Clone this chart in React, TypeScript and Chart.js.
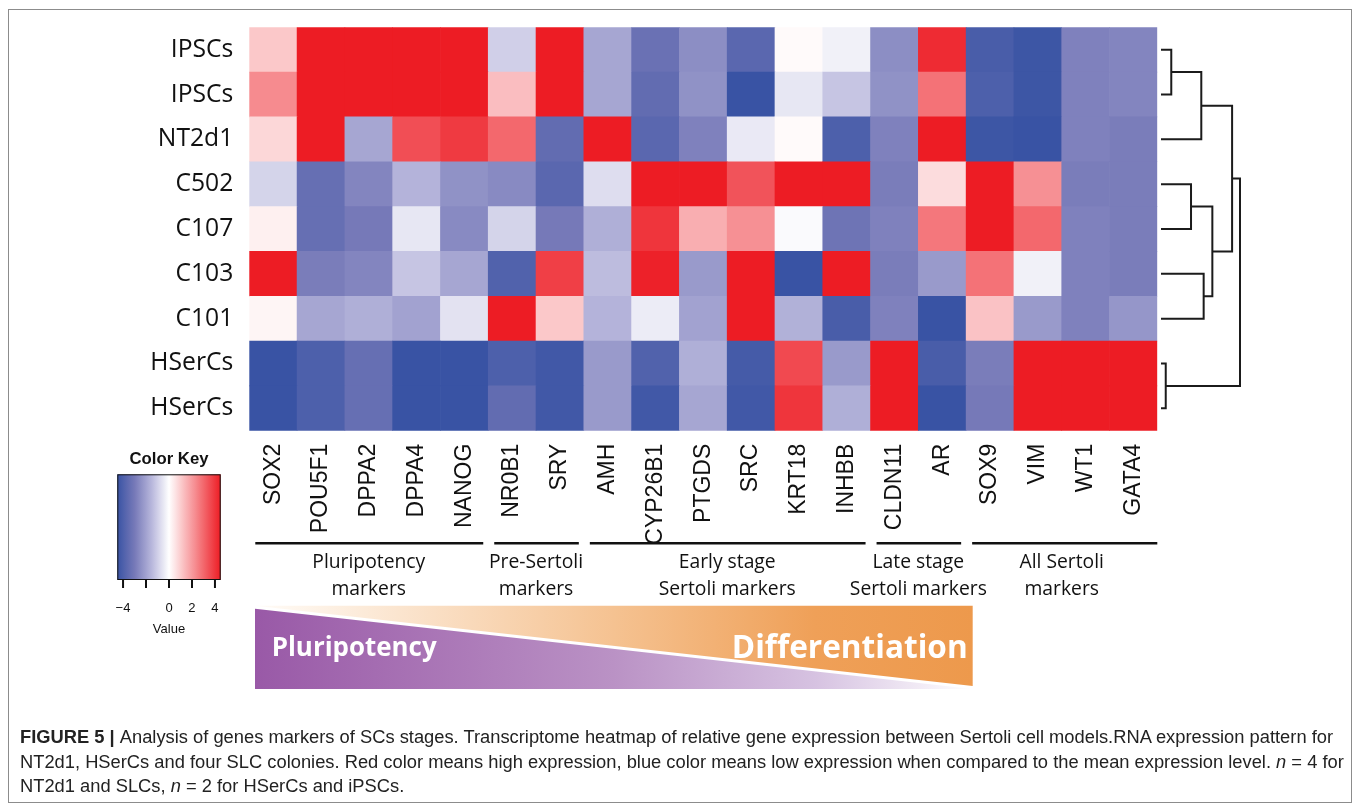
import React, { useEffect, useRef } from 'react';
import { Chart, registerables } from 'chart.js';
Chart.register(...registerables);

// ---------------- data ----------------
const rowLabels = ['IPSCs', 'IPSCs', 'NT2d1', 'C502', 'C107', 'C103', 'C101', 'HSerCs', 'HSerCs'];
const geneLabels = ['SOX2', 'POU5F1', 'DPPA2', 'DPPA4', 'NANOG', 'NR0B1', 'SRY', 'AMH', 'CYP26B1', 'PTGDS', 'SRC', 'KRT18', 'INHBB', 'CLDN11', 'AR', 'SOX9', 'VIM', 'WT1', 'GATA4'];

const ipscsA = [1.1, 4.5, 4.5, 4.5, 4.5, -1.0, 4.5, -1.9, -3.3, -2.5, -3.7, 0.1, -0.3, -2.5, 4.2, -4.1, -4.4, -2.8, -2.7];
const ipscsB = [2.3, 4.5, 4.5, 4.5, 4.5, 1.3, 4.5, -1.9, -3.5, -2.4, -4.5, -0.5, -1.2, -2.4, 2.8, -4.0, -4.4, -2.8, -2.7];
const nt2d1 = [0.8, 4.5, -1.9, 3.5, 3.9, 3.0, -3.5, 4.5, -3.7, -2.8, -0.45, 0.1, -4.0, -2.8, 4.5, -4.4, -4.5, -2.8, -2.9];
const c502 = [-0.9, -3.4, -2.7, -1.6, -2.4, -2.6, -3.7, -0.7, 4.5, 4.5, 3.4, 4.5, 4.5, -2.9, 0.7, 4.5, 2.2, -2.9, -2.9];
const c107 = [0.3, -3.4, -3.0, -0.5, -2.6, -0.9, -3.0, -1.7, 4.0, 1.6, 2.2, -0.1, -3.2, -2.8, 2.7, 4.5, 3.0, -2.8, -2.9];
const c103 = [4.5, -2.9, -2.7, -1.2, -1.9, -3.9, 3.8, -1.4, 4.4, -2.2, 4.5, -4.5, 4.5, -2.9, -2.2, 2.8, -0.3, -2.8, -2.9];
const c101 = [0.2, -1.9, -1.7, -2.0, -0.6, 4.5, 1.1, -1.6, -0.4, -2.0, 4.5, -1.65, -4.1, -2.8, -4.5, 1.2, -2.2, -2.8, -2.3];
const hsercsA = [-4.5, -4.0, -3.4, -4.5, -4.5, -4.0, -4.3, -2.2, -3.9, -1.7, -4.2, 3.6, -2.2, 4.5, -4.1, -2.9, 4.5, 4.5, 4.5];
const hsercsB = [-4.5, -4.0, -3.4, -4.5, -4.5, -3.5, -4.3, -2.2, -4.3, -1.9, -4.3, 4.0, -1.7, 4.5, -4.5, -3.0, 4.5, 4.5, 4.5];
const rowValues = [ipscsA, ipscsB, nt2d1, c502, c107, c103, c101, hsercsA, hsercsB];

// dendrogram merges: [childA, childB, height]; leaves 0..8 (top to bottom), merged nodes numbered from 9
const dendroMerges = [
  [0, 1, 0.13],
  [9, 2, 0.51],
  [3, 4, 0.38],
  [5, 6, 0.54],
  [11, 12, 0.65],
  [10, 13, 0.9],
  [7, 8, 0.06],
  [14, 15, 1.0],
];

const groupNames = [['Pluripotency', 'markers'], ['Pre-Sertoli', 'markers'], ['Early stage', 'Sertoli markers'], ['Late stage', 'Sertoli markers'], ['All Sertoli', 'markers']];
const groupFrom = [0, 5, 7, 13, 15];
const groupTo = [4, 6, 12, 14, 18];

const keyMin = -4.5;
const keyMax = 4.5;
const keyTicks = [-4, -2, 0, 2, 4];
const keyTickLabels = ['\u22124', '', '0', '2', '4'];

// ---------------- layout ----------------
const W = 1358, H = 806;
const PLOT_L = 249.3, PLOT_R = 1157.3, PLOT_T = 27.3, PLOT_B = 430.7;
const DENDRO_L = 1161, DENDRO_W = 79;
const BRACKET_Y = 543.3;
const KEY = { l: 117.3, r: 220.7, t: 474.3, b: 580 };
const BANNER = { l: 255, r: 972.7, t: 605.7, b: 689, gap: 3 };

// ---------------- colours ----------------
const blueStops: [number, number[]][] = [[-4.5, [57, 83, 164]], [-3, [118, 121, 184]], [-1.5, [184, 183, 220]], [0, [255, 255, 255]]];
const redStops: [number, number[]][] = [[0, [255, 255, 255]], [4.5, [237, 28, 36]]];
function colorFor(v: number): string {
  const x = Math.max(keyMin, Math.min(keyMax, v));
  const stops = x < 0 ? blueStops : redStops;
  for (let i = 0; i < stops.length - 1; i++) {
    const [a, ca] = stops[i];
    const [b, cb] = stops[i + 1];
    if (x >= a && x <= b) {
      const f = (x - a) / (b - a);
      const c = ca.map((q, k) => Math.round(q + (cb[k] - q) * f));
      return `rgb(${c[0]},${c[1]},${c[2]})`;
    }
  }
  return 'rgb(255,255,255)';
}

// ---------------- text helpers ----------------
let mctx: CanvasRenderingContext2D | null = null;
function fit(text: string, weight: number, family: string, width: number): number {
  if (!mctx) mctx = document.createElement('canvas').getContext('2d');
  mctx!.font = `${weight} 100px "${family}"`;
  return (100 * width) / mctx!.measureText(text).width;
}
const BASE: Record<string, number> = { 'Open Sans': 0.888, 'Liberation Sans': 0.8465 };
function T(props: any) {
  const { x, base, size, family = 'Liberation Sans', weight = 400, align = 'left', color = '#111', children } = props;
  const top = base - BASE[family] * size;
  const tx = align === 'center' ? '-50%' : align === 'right' ? '-100%' : '0';
  return (
    <div style={{ position: 'absolute', left: x, top, fontSize: size, lineHeight: `${size}px`, fontFamily: `"${family}"`, fontWeight: weight, color, whiteSpace: 'nowrap', transform: `translateX(${tx})` }}>
      {children}
    </div>
  );
}

// ---------------- extra drawing plugin ----------------
const extras = {
  id: 'extras',
  afterDraw(chart: any) {
    const ctx: CanvasRenderingContext2D = chart.ctx;
    const xs = chart.scales.x;
    const ys = chart.scales.y;
    ctx.save();
    // dendrogram
    const nodeY = rowLabels.map((_, i) => ys.getPixelForValue(rowLabels.length - i - 0.5));
    const nodeH = rowLabels.map(() => 0);
    const hx = (h: number) => DENDRO_L + h * DENDRO_W;
    ctx.strokeStyle = '#1b1b1b';
    ctx.lineWidth = 2;
    ctx.lineJoin = 'miter';
    dendroMerges.forEach(([a, b, h]) => {
      const x = hx(h);
      ctx.beginPath();
      ctx.moveTo(hx(nodeH[a]), nodeY[a]);
      ctx.lineTo(x, nodeY[a]);
      ctx.lineTo(x, nodeY[b]);
      ctx.lineTo(hx(nodeH[b]), nodeY[b]);
      ctx.stroke();
      nodeY.push((nodeY[a] + nodeY[b]) / 2);
      nodeH.push(h);
    });
    // group brackets
    const colW = (xs.right - xs.left) / geneLabels.length;
    ctx.lineWidth = 2.5;
    ctx.strokeStyle = '#111';
    groupFrom.forEach((f, i) => {
      const x0 = xs.getPixelForValue(f) - colW / 2 + 6;
      const x1 = xs.getPixelForValue(groupTo[i]) + colW / 2 - (i === groupFrom.length - 1 ? 0 : 5);
      ctx.beginPath();
      ctx.moveTo(x0, BRACKET_Y);
      ctx.lineTo(x1, BRACKET_Y);
      ctx.stroke();
    });
    // colour key
    const kx = (v: number) => KEY.l + ((v - keyMin) / (keyMax - keyMin)) * (KEY.r - KEY.l);
    const g = ctx.createLinearGradient(KEY.l, 0, KEY.r, 0);
    for (let i = 0; i <= 36; i++) {
      const v = keyMin + ((keyMax - keyMin) * i) / 36;
      g.addColorStop(i / 36, colorFor(v));
    }
    ctx.fillStyle = g;
    ctx.fillRect(KEY.l, KEY.t, KEY.r - KEY.l, KEY.b - KEY.t);
    ctx.lineWidth = 1;
    ctx.strokeStyle = '#111';
    ctx.strokeRect(KEY.l + 0.5, KEY.t + 0.5, KEY.r - KEY.l - 1, KEY.b - KEY.t - 1);
    ctx.lineWidth = 2;
    keyTicks.forEach((v) => {
      ctx.beginPath();
      ctx.moveTo(kx(v), KEY.b);
      ctx.lineTo(kx(v), KEY.b + 8);
      ctx.stroke();
    });
    // banner
    const og = ctx.createLinearGradient(BANNER.l, 0, BANNER.r, 0);
    og.addColorStop(0, 'rgb(255,252,248)');
    og.addColorStop(0.5, 'rgb(245,194,145)');
    og.addColorStop(0.78, 'rgb(239,160,88)');
    og.addColorStop(1, 'rgb(237,153,76)');
    ctx.fillStyle = og;
    ctx.beginPath();
    ctx.moveTo(BANNER.l, BANNER.t);
    ctx.lineTo(BANNER.r, BANNER.t);
    ctx.lineTo(BANNER.r, BANNER.b - BANNER.gap);
    ctx.closePath();
    ctx.fill();
    const pg = ctx.createLinearGradient(BANNER.l, 0, BANNER.r, 0);
    pg.addColorStop(0, 'rgb(153,89,167)');
    pg.addColorStop(0.5, 'rgb(186,146,197)');
    pg.addColorStop(0.78, 'rgb(214,194,225)');
    pg.addColorStop(1, 'rgb(255,255,255)');
    ctx.fillStyle = pg;
    ctx.beginPath();
    ctx.moveTo(BANNER.l, BANNER.t + BANNER.gap);
    ctx.lineTo(BANNER.r, BANNER.b);
    ctx.lineTo(BANNER.l, BANNER.b);
    ctx.closePath();
    ctx.fill();
    ctx.restore();
  },
};

export default function App() {
  const ref = useRef<HTMLCanvasElement>(null);
  const rowFont = fit('IPSCs', 400, 'Open Sans', 62.6);

  useEffect(() => {
    const n = rowLabels.length;
    const datasets = rowValues
      .map((vals, r) => ({
        label: rowLabels[r],
        data: geneLabels.map(() => 1),
        backgroundColor: vals.map(colorFor),
        borderWidth: 0,
        barPercentage: 1,
        categoryPercentage: 1,
        stack: 'heat',
      }))
      .reverse();
    const chart = new Chart(ref.current!, {
      type: 'bar',
      data: { labels: geneLabels, datasets },
      options: {
        responsive: false,
        animation: false,
        devicePixelRatio: 1,
        events: [],
        layout: { padding: { left: 0, right: W - PLOT_R, top: PLOT_T, bottom: 0 } },
        plugins: { legend: { display: false }, tooltip: { enabled: false } },
        scales: {
          x: {
            stacked: true,
            grid: { display: false, drawTicks: false },
            border: { display: false },
            ticks: { color: '#111', font: { family: '"Liberation Sans"', size: 23 }, maxRotation: 90, minRotation: 90, padding: 13, autoSkip: false },
            afterFit: (s: any) => { s.height = H - PLOT_B; s.paddingLeft = 0; s.paddingRight = 0; },
          },
          y: {
            stacked: true,
            min: 0,
            max: n,
            grid: { display: false, drawTicks: false },
            border: { display: false },
            afterBuildTicks: (s: any) => { s.ticks = rowLabels.map((_, i) => ({ value: i + 0.5 })); },
            ticks: { color: '#111', font: { family: '"Open Sans"', size: rowFont }, padding: 16, callback: (v: any) => rowLabels[n - 1 - Math.floor(Number(v))] },
            afterFit: (s: any) => { s.width = PLOT_L; s.paddingTop = 0; s.paddingBottom = 0; },
          },
        },
      },
      plugins: [extras],
    });
    return () => chart.destroy();
  }, []);

  const colW = (PLOT_R - PLOT_L) / geneLabels.length;
  const groupSize = fit('Pluripotency', 400, 'Open Sans', 113);
  const keyTitle = fit('Color Key', 700, 'Liberation Sans', 79);
  const banner1 = fit('Pluripotency', 700, 'Open Sans', 165);
  const banner2 = fit('Differentiation', 700, 'Open Sans', 236);
  const capLine1 = 'FIGURE 5 | ';
  const capRest1 = 'Analysis of genes markers of SCs stages. Transcriptome heatmap of relative gene expression between Sertoli cell models.RNA expression pattern for';
  let capSize = 16.5;
  {
    if (!mctx) mctx = document.createElement('canvas').getContext('2d');
    mctx!.font = '700 100px "Liberation Sans"';
    const wb = mctx!.measureText(capLine1).width;
    mctx!.font = '400 100px "Liberation Sans"';
    const wr = mctx!.measureText(capRest1).width;
    capSize = (100 * 1315) / (wb + wr);
  }
  const kx = (v: number) => KEY.l + ((v - keyMin) / (keyMax - keyMin)) * (KEY.r - KEY.l);

  return (
    <div style={{ position: 'absolute', left: 0, top: 0, width: W, height: H, background: '#fff', overflow: 'hidden' }}>
      <div style={{ position: 'absolute', left: 8, top: 9, width: 1342, height: 792, border: '1px solid #8c8c8c' }} />
      <canvas ref={ref} width={W} height={H} style={{ position: 'absolute', left: 0, top: 0, display: 'block' }} />
      {groupNames.map((g, i) => {
        const cx = PLOT_L + colW * ((groupFrom[i] + groupTo[i] + 1) / 2);
        return (
          <React.Fragment key={i}>
            <T x={cx} base={568} size={groupSize} family="Open Sans" align="center">{g[0]}</T>
            <T x={cx} base={595.5} size={groupSize} family="Open Sans" align="center">{g[1]}</T>
          </React.Fragment>
        );
      })}
      <T x={(KEY.l + KEY.r) / 2} base={465} size={keyTitle} weight={700} align="center">Color Key</T>
      {keyTicks.map((v, i) => (
        <T key={i} x={kx(v)} base={611.7} size={13} align="center">{keyTickLabels[i]}</T>
      ))}
      <T x={(KEY.l + KEY.r) / 2} base={633} size={13} align="center">Value</T>
      <T x={271.7} base={657.3} size={banner1} family="Open Sans" weight={700} color="#fff">Pluripotency</T>
      <T x={967.7} base={657.7} size={banner2} family="Open Sans" weight={700} color="#fff" align="right">Differentiation</T>
      <T x={20} base={744} size={capSize} color="#222"><b>FIGURE 5 | </b>{capRest1}</T>
      <T x={20} base={768.5} size={capSize} color="#222">NT2d1, HSerCs and four SLC colonies. Red color means high expression, blue color means low expression when compared to the mean expression level. <i>n</i> = 4 for</T>
      <T x={20} base={792.5} size={capSize} color="#222">NT2d1 and SLCs, <i>n</i> = 2 for HSerCs and iPSCs.</T>
    </div>
  );
}
